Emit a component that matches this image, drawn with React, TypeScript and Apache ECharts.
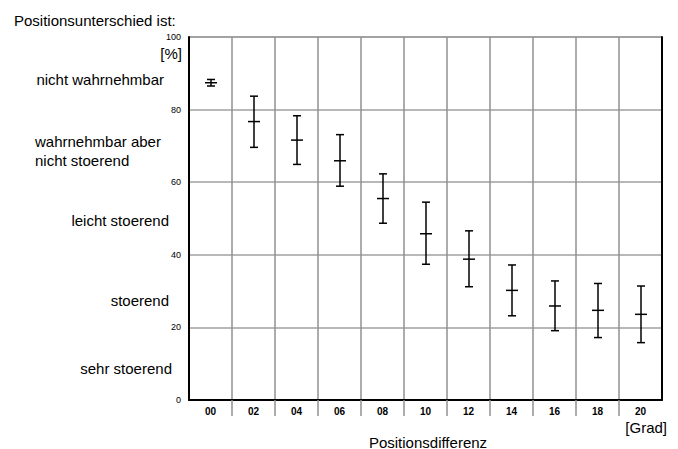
import React, { useEffect, useRef } from "react";
import * as echarts from "echarts";

const categories = ["00", "02", "04", "06", "08", "10", "12", "14", "16", "18", "20"];
const means = [87.4, 76.7, 71.6, 65.9, 55.5, 45.8, 38.8, 30.2, 25.9, 24.7, 23.6];
const lows = [86.5, 69.6, 64.9, 58.9, 48.7, 37.4, 31.2, 23.2, 19.1, 17.2, 15.8];
const highs = [88.3, 83.7, 78.3, 73.1, 62.3, 54.5, 46.6, 37.2, 32.8, 32.1, 31.4];
const yMin = 0;
const yMax = 100;
const yInterval = 20;

const FONT = "'Liberation Sans', Arial, sans-serif";

export default function App() {
  const ref = useRef<HTMLDivElement>(null);

  useEffect(() => {
    if (!ref.current) return;
    const chart = echarts.init(ref.current, null, { renderer: "svg" });
    const data = categories.map((_, i) => [i, lows[i], highs[i], means[i]]);
    const big = { fontSize: 15, fontFamily: FONT, fill: "#000" };

    const option: any = {
      animation: false,
      backgroundColor: "#fff",
      textStyle: { fontFamily: FONT },
      grid: {
        left: 189,
        right: 16,
        top: 37,
        bottom: 49,
        show: true,
        borderColor: "#555",
        borderWidth: 1,
      },
      xAxis: {
        type: "category",
        data: categories,
        boundaryGap: true,
        axisLine: { show: true, lineStyle: { color: "#000", width: 2 } },
        axisTick: { show: false },
        axisLabel: {
          color: "#000",
          fontSize: 10,
          fontWeight: "bold",
          fontFamily: FONT,
          margin: 6,
        },
        splitLine: { show: true, interval: 0, lineStyle: { color: "#909090", width: 1.5 } },
      },
      yAxis: [
        {
          type: "value",
          min: yMin,
          max: yMax,
          interval: yInterval,
          axisLine: { show: true, lineStyle: { color: "#000", width: 2 } },
          axisTick: { show: false },
          axisLabel: { color: "#000", fontSize: 9, fontFamily: FONT, margin: 8 },
          splitLine: { show: true, lineStyle: { color: "#a0a0a0", width: 1.5 } },
        },
        {
          type: "value",
          min: yMin,
          max: yMax,
          interval: yInterval,
          position: "right",
          axisLine: { show: true, lineStyle: { color: "#000", width: 2 } },
          axisTick: { show: false },
          axisLabel: { show: false },
          splitLine: { show: false },
        },
      ],
      series: [
        {
          type: "custom",
          clip: false,
          data,
          renderItem: (params: any, api: any) => {
            const idx = api.value(0);
            const lo = api.coord([idx, api.value(1)]);
            const hi = api.coord([idx, api.value(2)]);
            const mid = api.coord([idx, api.value(3)]);
            const base = api.coord([idx, yMin]);
            const bandW = api.size([1, 0])[0];
            const x = Math.round(lo[0]);
            const style = { stroke: "#000", lineWidth: 1.5 };
            const children: any[] = [
              { type: "line", shape: { x1: x, y1: hi[1], x2: x, y2: lo[1] }, style },
              { type: "line", shape: { x1: x - 4, y1: hi[1], x2: x + 4, y2: hi[1] }, style },
              { type: "line", shape: { x1: x - 4, y1: lo[1], x2: x + 4, y2: lo[1] }, style },
              { type: "line", shape: { x1: x - 6, y1: mid[1], x2: x + 6, y2: mid[1] }, style },
            ];
            if (idx > 0) {
              const bx = lo[0] - bandW / 2;
              children.push({
                type: "line",
                shape: { x1: bx, y1: base[1], x2: bx, y2: base[1] + 16 },
                style: { stroke: "#909090", lineWidth: 1.5 },
              });
            }
            return { type: "group", children };
          },
        },
      ],
      graphic: [
        { type: "text", left: 14, top: 13, style: { ...big, text: "Positionsunterschied ist:" } },
        { type: "text", x: 182, y: 53, style: { ...big, text: "[%]", textAlign: "right", textVerticalAlign: "middle" } },
        { type: "text", x: 164, y: 79, style: { ...big, text: "nicht wahrnehmbar", textAlign: "right", textVerticalAlign: "middle" } },
        { type: "text", x: 35, y: 141, style: { ...big, text: "wahrnehmbar aber", textAlign: "left", textVerticalAlign: "middle" } },
        { type: "text", x: 35, y: 160, style: { ...big, text: "nicht stoerend", textAlign: "left", textVerticalAlign: "middle" } },
        { type: "text", x: 169, y: 220, style: { ...big, text: "leicht stoerend", textAlign: "right", textVerticalAlign: "middle" } },
        { type: "text", x: 169, y: 300, style: { ...big, text: "stoerend", textAlign: "right", textVerticalAlign: "middle" } },
        { type: "text", x: 172, y: 368, style: { ...big, text: "sehr stoerend", textAlign: "right", textVerticalAlign: "middle" } },
        { type: "text", x: 667, y: 427, style: { ...big, text: "[Grad]", textAlign: "right", textVerticalAlign: "middle" } },
        { type: "text", x: 428, y: 442, style: { ...big, text: "Positionsdifferenz", textAlign: "center", textVerticalAlign: "middle" } },
      ],
    };
    chart.setOption(option);
    return () => chart.dispose();
  }, []);

  return <div ref={ref} style={{ width: 678, height: 449, position: "absolute", left: 0, top: 0 }} />;
}
